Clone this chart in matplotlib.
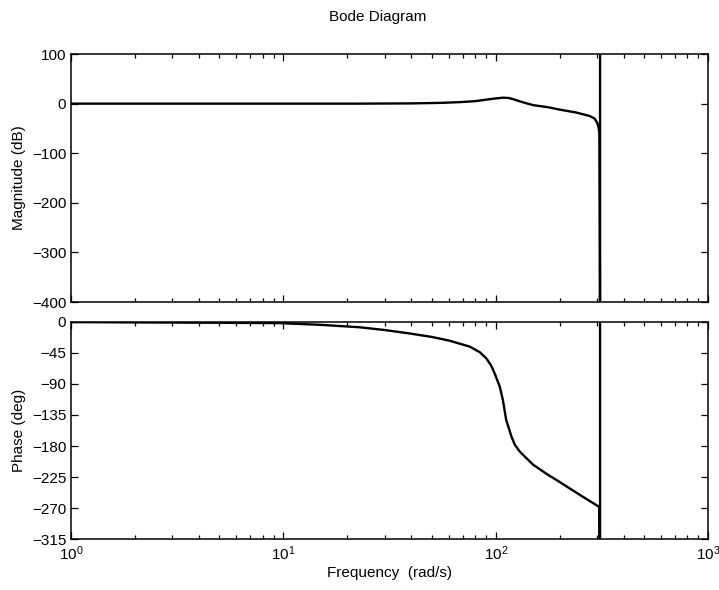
import numpy as np
import matplotlib
matplotlib.use("Agg")
import matplotlib.pyplot as plt
from matplotlib.ticker import LogLocator, NullFormatter

plt.rcParams["font.family"] = ["Liberation Sans", "DejaVu Sans"]
plt.rcParams["mathtext.fontset"] = "custom"
plt.rcParams["mathtext.rm"] = "Liberation Sans"
plt.rcParams["mathtext.it"] = "Liberation Sans"

# values (rad/s, dB, deg)
freq_mag = [1, 3, 10, 22.8, 40, 55, 67.5, 80, 90, 100, 108, 115, 122, 130, 140,
            150, 175, 200, 240, 277, 292, 300, 305, 308, 310, 310]
mag_db = [0, 0, 0, 0, 0.5, 1.5, 3, 5, 8, 10.5, 12, 11.5, 8.5, 4.5, 0.5,
          -3, -7, -12, -18, -25, -30, -38, -48, -60, -450, 150]

freq_ph = [1, 2, 5, 9.6, 15, 22.8, 30, 39.3, 50, 60.7, 75.4, 84, 90.3, 95, 98.9,
           104.5, 108, 112, 118.5, 123, 129.8, 140, 150, 175, 200, 250, 307,
           310, 310]
phase_deg = [-0.5, -1, -1.5, -2, -4.5, -8, -12, -17, -22, -27.5, -36, -44, -53,
             -63, -75, -94, -113, -142, -166, -178, -188, -198, -207, -221,
             -232, -251, -268, -400, 50]

mag_ticks = [-400, -300, -200, -100, 0, 100]
phase_ticks = [-315, -270, -225, -180, -135, -90, -45, 0]
freq_ticks = [1, 10, 100, 1000]
freq_labels = [r"$10^{0}$", r"$10^{1}$", r"$10^{2}$", r"$10^{3}$"]

fig = plt.figure(figsize=(7.19, 5.90), dpi=100)
ax1 = fig.add_axes([0.0988, 0.4881, 0.886, 0.4203])
ax2 = fig.add_axes([0.0988, 0.0859, 0.886, 0.3688])

ax1.plot(freq_mag, mag_db, color="black", lw=1.7)
ax2.plot(freq_ph, phase_deg, color="black", lw=1.7)

for ax in (ax1, ax2):
    ax.set_xscale("log")
    ax.set_xlim(1, 1000)
    ax.set_xticks(freq_ticks)
    ax.xaxis.set_minor_locator(LogLocator(base=10, subs=np.arange(2, 10)))
    ax.xaxis.set_minor_formatter(NullFormatter())
    ax.tick_params(which="both", direction="in", top=True, right=True,
                   labelsize=11, width=0.9)
    ax.tick_params(which="major", length=5)
    ax.tick_params(which="minor", length=3)
    for s in ax.spines.values():
        s.set_linewidth(1.1)

ax1.set_ylim(-400, 100)
ax1.set_yticks(mag_ticks)
ax1.set_xticklabels([])
ax1.set_ylabel("Magnitude (dB)", fontsize=11)

ax2.set_ylim(-315, 0)
ax2.set_yticks(phase_ticks)
ax2.set_xticklabels(freq_labels)
ax2.set_ylabel("Phase (deg)", fontsize=11)
ax2.set_xlabel("Frequency  (rad/s)", fontsize=11, labelpad=2)

fig.text(378 / 719, 1 - 17 / 590, "Bode Diagram", ha="center", va="center",
         fontsize=11)

fig.savefig("out.png", dpi=100)
